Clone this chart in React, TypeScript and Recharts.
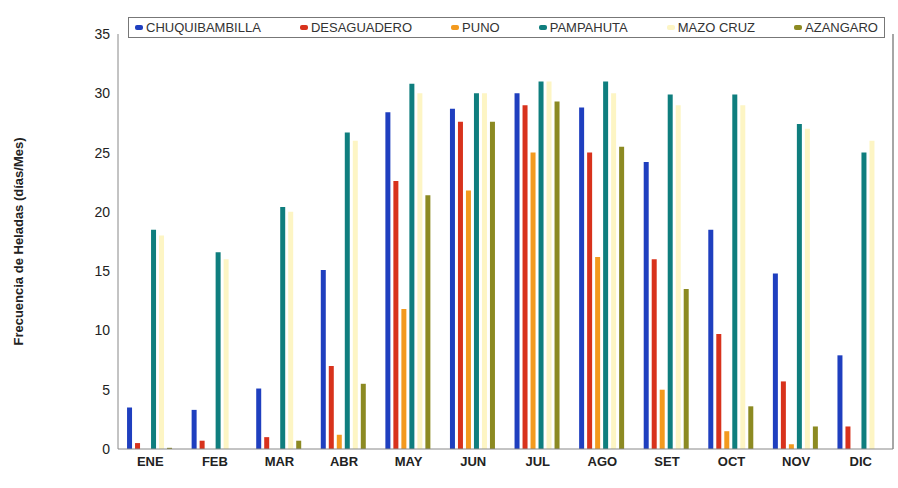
import React from 'react';
import { BarChart, Bar, XAxis, YAxis, Legend } from 'recharts';

const months = ['ENE', 'FEB', 'MAR', 'ABR', 'MAY', 'JUN', 'JUL', 'AGO', 'SET', 'OCT', 'NOV', 'DIC'];
const chuquibambilla = [3.5, 3.3, 5.1, 15.1, 28.4, 28.7, 30.0, 28.8, 24.2, 18.5, 14.8, 7.9];
const desaguadero = [0.5, 0.7, 1.0, 7.0, 22.6, 27.6, 29.0, 25.0, 16.0, 9.7, 5.7, 1.9];
const puno = [0, 0, 0, 1.2, 11.8, 21.8, 25.0, 16.2, 5.0, 1.5, 0.4, 0];
const pampahuta = [18.5, 16.6, 20.4, 26.7, 30.8, 30.0, 31.0, 31.0, 29.9, 29.9, 27.4, 25.0];
const mazoCruz = [18, 16, 20, 26, 30, 30, 31, 30, 29, 29, 27, 26];
const azangaro = [0.1, 0, 0.7, 5.5, 21.4, 27.6, 29.3, 25.5, 13.5, 3.6, 1.9, 0];
const yTicks = [0, 5, 10, 15, 20, 25, 30, 35];

const series = [
  { key: 'CHUQUIBAMBILLA', color: '#1f3fbf' },
  { key: 'DESAGUADERO', color: '#d8321c' },
  { key: 'PUNO', color: '#f39a1e' },
  { key: 'PAMPAHUTA', color: '#0f7e7e' },
  { key: 'MAZO CRUZ', color: '#fdf5c4' },
  { key: 'AZANGARO', color: '#8c8a22' },
];

const data = months.map((m, i) => ({
  name: m,
  CHUQUIBAMBILLA: chuquibambilla[i],
  DESAGUADERO: desaguadero[i],
  PUNO: puno[i],
  PAMPAHUTA: pampahuta[i],
  'MAZO CRUZ': mazoCruz[i],
  AZANGARO: azangaro[i],
}));

const LegendBox = () => (
  <div style={{ border: '1px solid #777', background: '#fff', display: 'flex', justifyContent: 'space-between', padding: '2px 6px', fontSize: 13, color: '#333', fontFamily: 'Arial, Liberation Sans, sans-serif' }}>
    {series.map(s => (
      <span key={s.key} style={{ display: 'flex', alignItems: 'center' }}>
        <span style={{ width: 8, height: 5, background: s.color, display: 'inline-block', marginRight: 3, borderRadius: 2 }} />
        {s.key}
      </span>
    ))}
  </div>
);

export default function App() {
  return (
    <div style={{ position: 'absolute', left: 0, top: 0, width: 898, height: 488, background: '#fff', fontFamily: 'Arial, Liberation Sans, sans-serif' }}>
      <BarChart width={898} height={488} data={data} margin={{ top: 13, right: 3, left: 58, bottom: 10 }} barCategoryGap="14%" barGap={3}>
        <XAxis dataKey="name" stroke="#888" tickLine={false} tick={{ fontSize: 13, fontWeight: 'bold', fill: '#222' }} height={29} />
        <XAxis xAxisId="top" dataKey="name" orientation="top" stroke="#888" tick={false} tickLine={false} height={0} />
        <YAxis domain={[0, 35]} ticks={yTicks} stroke="#888" tickLine={false} width={60} tick={{ fontSize: 14, fill: '#222' }}
          label={{ value: 'Frecuencia de Heladas (días/Mes)', angle: -90, position: 'insideLeft', offset: -40, style: { textAnchor: 'middle', fontSize: 13, fontWeight: 'bold', fill: '#222' } }} />
        <YAxis yAxisId="right" orientation="right" domain={[0, 35]} ticks={yTicks} stroke="#888" strokeWidth={1.5} tick={false} tickLine={false} width={2} />
        <Legend content={<LegendBox />} verticalAlign="top" wrapperStyle={{ top: 17, left: 128, width: 757 }} />
        {series.map(s => (
          <Bar key={s.key} dataKey={s.key} fill={s.color} isAnimationActive={false}
            yAxisId={s.key === 'MAZO CRUZ' ? 'right' : 0} />
        ))}
      </BarChart>
    </div>
  );
}
